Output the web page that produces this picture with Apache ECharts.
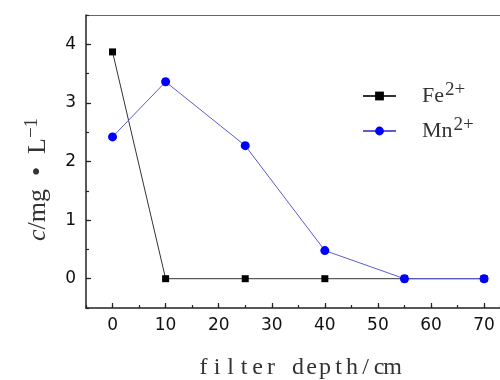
<!DOCTYPE html>
<html>
<head>
<meta charset="utf-8">
<script src="https://cdn.jsdelivr.net/npm/echarts@6/dist/echarts.min.js"></script>
<style>
  html, body { margin: 0; padding: 0; background: #fff; }
  #chart { width: 500px; height: 380px; }
</style>
</head>
<body>
<div id="chart"></div>
<script>
// filter depth (cm) and concentrations (mg/L)
const depths = [0, 10, 25, 40, 55, 70];
const feValues = [3.87, 0, 0, 0, 0, 0];
const mnValues = [2.42, 3.36, 2.27, 0.48, 0, 0];
const ionNames = ['Fe', 'Mn'];
const ionCharge = '2+';
const xTitle = 'filter depth/cm';

const toPoints = vals => depths.map((d, i) => [d, vals[i]]);
// fake a monospaced serif face: one fixed-width rich token per character
const mono = (str, style) => str.split('').map(ch => '{' + style + '|' + ch + '}').join('');

const axisColor = '#222';
const tickFont = { fontFamily: 'DejaVu Sans', fontSize: 17, color: '#111' };
const serif = 'Liberation Serif';

let myChart = echarts.init(document.getElementById('chart'));

let option = {
  animation: false,
  grid: { left: 86, top: 15, right: 0, bottom: 72, containLabel: false, outerBoundsMode: 'none' },
  legend: {
    orient: 'vertical',
    left: 362,
    top: 81,
    padding: 0,
    itemWidth: 33,
    itemHeight: 11,
    itemGap: 9,
    data: ionNames,
    formatter: name => '{a|' + name + '}{b|' + ionCharge + '}',
    textStyle: {
      padding: [0, 0, 0, 21],
      rich: {
        a: { fontFamily: serif, fontSize: 22, color: '#333', lineHeight: 30 },
        b: { fontFamily: serif, fontSize: 19, color: '#333', lineHeight: 14, verticalAlign: 'top', padding: [0, 0, 0, 1] }
      }
    }
  },
  xAxis: [
    {
      type: 'value',
      position: 'bottom',
      min: -5,
      max: 73,
      minInterval: 10,
      maxInterval: 10,
      splitLine: { show: false },
      axisLine: { onZero: false, lineStyle: { color: axisColor, width: 1.5 } },
      axisTick: { inside: true, length: 5, lineStyle: { color: axisColor, width: 1.2 } },
      axisLabel: Object.assign({ margin: 9, showMinLabel: false, showMaxLabel: false }, tickFont),
      name: mono(xTitle, 'c'),
      nameLocation: 'middle',
      nameGap: 48,
      nameTextStyle: {
        padding: [0, 0, 0, 10],
        rich: {
          c: { fontFamily: serif, fontSize: 24, color: '#333', width: 13.5, align: 'center' }
        }
      }
    },
    {
      // minor ticks
      type: 'value',
      position: 'bottom',
      min: -5,
      max: 73,
      interval: 5,
      splitLine: { show: false },
      axisLine: { show: false, onZero: false },
      axisTick: { inside: true, length: 3, lineStyle: { color: axisColor, width: 1.2 } },
      axisLabel: { show: false }
    },
    {
      // top frame line
      type: 'value',
      position: 'top',
      min: -5,
      max: 73,
      splitLine: { show: false },
      axisLine: { onZero: false, lineStyle: { color: '#666', width: 1 } },
      axisTick: { show: false },
      axisLabel: { show: false }
    }
  ],
  yAxis: [
    {
      type: 'value',
      position: 'left',
      min: -0.5,
      max: 4.5,
      minInterval: 1,
      maxInterval: 1,
      splitLine: { show: false },
      axisLine: { onZero: false, lineStyle: { color: axisColor, width: 1.5 } },
      axisTick: { inside: true, length: 5, lineStyle: { color: axisColor, width: 1.2 } },
      axisLabel: Object.assign({ margin: 10, showMinLabel: false, showMaxLabel: false }, tickFont),
      name: '{i|c}{n|/mg\u2002\u2022\u2002L}{s|\u22121}',
      nameLocation: 'middle',
      nameGap: 33,
      nameRotate: 90,
      nameTextStyle: {
        padding: [0, 36, 0, 0],
        rich: {
          i: { fontFamily: serif, fontStyle: 'italic', fontSize: 26, color: '#333', lineHeight: 30 },
          n: { fontFamily: serif, fontSize: 26, color: '#333', lineHeight: 30 },
          s: { fontFamily: serif, fontSize: 19, color: '#333', lineHeight: 14, verticalAlign: 'top' }
        }
      }
    },
    {
      // minor ticks
      type: 'value',
      position: 'left',
      min: -0.5,
      max: 4.5,
      interval: 0.5,
      splitLine: { show: false },
      axisLine: { show: false, onZero: false },
      axisTick: { inside: true, length: 3, lineStyle: { color: axisColor, width: 1.2 } },
      axisLabel: { show: false }
    }
  ],
  series: [
    {
      name: ionNames[0],
      type: 'line',
      data: toPoints(feValues),
      symbol: 'rect',
      symbolSize: 7,
      itemStyle: { color: '#000' },
      lineStyle: { color: '#333', width: 1 }
    },
    {
      name: ionNames[1],
      type: 'line',
      data: toPoints(mnValues),
      symbol: 'circle',
      symbolSize: 9,
      itemStyle: { color: '#0000ff' },
      lineStyle: { color: '#5a5ad6', width: 1 }
    }
  ]
};

myChart.setOption(option);
</script>
</body>
</html>
